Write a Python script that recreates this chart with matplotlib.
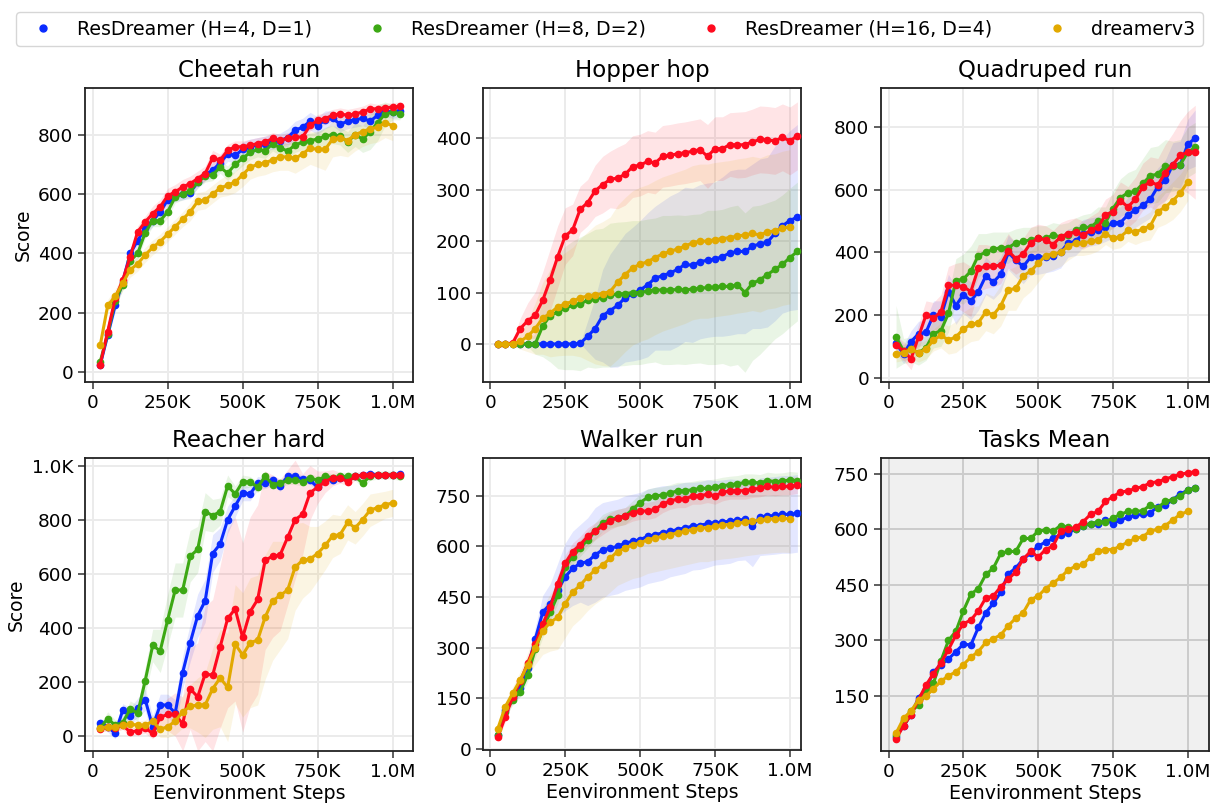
import numpy as np
import matplotlib
matplotlib.use("Agg")
import matplotlib.pyplot as plt
from matplotlib.lines import Line2D
from matplotlib.ticker import FuncFormatter, MultipleLocator

# x axis: evaluation every 25K env steps
steps_res = [25_000 * k for k in range(1, 42)]   # ResDreamer runs go to 1.025M
steps_dv3 = [25_000 * k for k in range(1, 41)]   # dreamerv3 stops at 1.0M

labels = ["ResDreamer (H=4, D=1)", "ResDreamer (H=8, D=2)",
          "ResDreamer (H=16, D=4)", "dreamerv3"]
colors = ["#0a2bff", "#3ca814", "#ff0a1e", "#e2a900"]

# ---------------- Cheetah run ----------------
cheetah_h4 = [25, 125, 225, 305, 400, 443, 485, 510, 540, 580, 595, 600, 605, 640, 665, 680, 705, 735, 730, 750,
              760, 765, 770, 775, 780, 790, 815, 825, 845, 830, 850, 855, 835, 845, 850, 855, 845, 865, 880, 875, 878]
cheetah_h8 = [35, 130, 240, 295, 375, 400, 470, 510, 510, 540, 590, 600, 610, 640, 660, 665, 690, 670, 700, 720,
              740, 750, 745, 770, 755, 745, 765, 775, 780, 785, 795, 800, 795, 775, 800, 785, 810, 840, 870, 875, 870]
cheetah_h16 = [25, 137, 249, 310, 389, 473, 506, 534, 557, 594, 607, 624, 635, 652, 669, 722, 714, 747, 759, 759,
               764, 770, 775, 787, 781, 787, 792, 792, 831, 848, 854, 865, 870, 865, 870, 876, 887, 887, 890, 893, 895]
cheetah_dv3 = [90, 225, 255, 300, 345, 365, 395, 420, 440, 465, 490, 515, 540, 575, 580, 600, 620, 630, 640, 665,
               690, 700, 705, 715, 725, 725, 720, 735, 755, 750, 750, 785, 790, 780, 800, 810, 820, 825, 840, 830]
cheetah_h4_sd = [10, 15, 20, 20, 20, 20, 20, 20, 20, 20, 20, 20, 20, 20, 20, 25, 25, 25, 25, 25, 25,
                 25, 25, 25, 25, 30, 30, 30, 30, 30, 30, 25, 25, 25, 25, 25, 25, 25, 20, 20, 20]
cheetah_h8_sd = [10, 15, 20, 20, 20, 20, 20, 20, 20, 20, 20, 20, 20, 20, 20, 20, 20, 25, 25, 25, 25,
                 25, 25, 25, 25, 25, 25, 25, 25, 25, 30, 30, 30, 35, 40, 45, 60, 60, 40, 25, 20]
cheetah_h16_sd = [10, 15, 20, 20, 20, 20, 20, 25, 25, 25, 25, 25, 25, 25, 25, 25, 20, 20, 20, 20, 20,
                  20, 20, 20, 20, 20, 20, 20, 20, 20, 20, 20, 20, 20, 20, 20, 20, 15, 15, 15, 15]
cheetah_dv3_sd = [15, 20, 25, 25, 25, 25, 25, 25, 25, 25, 25, 25, 30, 30, 30, 30, 30, 35, 35, 40,
                  40, 40, 40, 40, 45, 45, 50, 50, 55, 60, 70, 60, 60, 55, 55, 50, 50, 50, 50, 50]

# ---------------- Hopper hop ----------------
hopper_h4 = [0, 0, 0, 0, 0, 0, 0, 0, 0, 0, 0, 1, 15, 30, 55, 65, 75, 90, 97, 105,
             115, 128, 133, 138, 145, 155, 153, 160, 163, 165, 170, 177, 180, 180, 190, 195, 198, 215, 230, 240, 247]
hopper_h8 = [0, 0, 0, 0, 0, 0, 35, 55, 62, 70, 75, 78, 85, 88, 90, 95, 97, 98, 100, 100,
             103, 105, 105, 105, 106, 105, 107, 108, 110, 110, 112, 112, 115, 100, 118, 125, 135, 145, 155, 168, 180]
hopper_h16 = [0, 0, 2, 30, 45, 56, 85, 125, 170, 210, 222, 262, 275, 298, 310, 320, 323, 330, 345, 348,
              355, 352, 365, 367, 370, 372, 375, 378, 365, 380, 380, 388, 387, 388, 393, 398, 397, 395, 402, 395, 405]
hopper_dv3 = [0, 0, 0, 5, 15, 30, 50, 60, 72, 78, 83, 90, 93, 96, 98, 102, 120, 135, 148, 155,
              160, 168, 175, 180, 185, 190, 197, 200, 200, 203, 205, 207, 210, 212, 215, 212, 218, 220, 225, 228]
hopper_h4_sd = [0, 0, 0, 0, 0, 0, 0, 0, 0, 0, 0, 0, 30, 60, 90, 110, 120, 125, 130, 135, 140,
                140, 145, 150, 150, 150, 150, 150, 150, 150, 155, 160, 160, 160, 160, 165, 165, 170, 170, 175, 180]
hopper_h8_sd = [0, 0, 0, 0, 5, 20, 60, 90, 110, 120, 125, 130, 130, 135, 135, 140, 140, 140, 140, 140, 140,
                140, 145, 145, 145, 145, 145, 145, 150, 150, 150, 155, 155, 155, 150, 145, 140, 135, 135, 135, 135]
hopper_h16_sd = [0, 0, 5, 20, 35, 45, 55, 60, 60, 55, 50, 45, 45, 50, 55, 55, 60, 60, 60, 60, 60,
                 60, 60, 60, 60, 60, 60, 60, 62, 62, 62, 62, 64, 64, 64, 65, 65, 65, 65, 66, 66]
hopper_dv3_sd = [0, 0, 5, 15, 30, 50, 70, 85, 95, 100, 105, 115, 125, 135, 140, 145, 150, 150, 150, 150,
                 150, 150, 150, 150, 150, 150, 150, 150, 150, 150, 150, 150, 150, 150, 150, 150, 150, 150, 150, 150]

# ---------------- Quadruped run ----------------
quad_h4 = [110, 75, 115, 140, 145, 200, 195, 275, 230, 265, 245, 275, 325, 305, 330, 400, 375, 355, 385, 385,
           385, 390, 400, 430, 435, 460, 465, 470, 480, 495, 495, 520, 535, 550, 570, 610, 630, 680, 680, 745, 765]
quad_h8 = [130, 85, 90, 80, 95, 140, 150, 205, 310, 315, 340, 390, 400, 410, 415, 415, 430, 435, 440, 445,
           445, 455, 450, 455, 470, 480, 480, 500, 495, 540, 575, 590, 595, 620, 645, 650, 675, 675, 680, 720, 735]
quad_h16 = [105, 85, 60, 130, 200, 190, 210, 295, 295, 290, 275, 350, 355, 355, 360, 405, 380, 395, 430, 445,
            440, 425, 450, 460, 465, 455, 470, 480, 520, 530, 565, 545, 570, 610, 625, 615, 655, 680, 710, 720, 720]
quad_dv3 = [75, 80, 90, 80, 90, 120, 135, 120, 130, 155, 170, 175, 210, 200, 230, 280, 285, 325, 340, 365,
            390, 395, 400, 420, 430, 430, 435, 440, 460, 445, 450, 470, 465, 475, 485, 530, 545, 565, 590, 625]
quad_h4_sd = [30, 30, 35, 40, 40, 45, 50, 55, 60, 60, 60, 60, 60, 55, 55, 55, 55, 55, 55, 55, 50,
              50, 50, 45, 45, 45, 45, 45, 45, 50, 50, 55, 55, 55, 60, 60, 65, 70, 75, 80, 90]
quad_h8_sd = [100, 40, 40, 40, 40, 45, 50, 60, 70, 80, 80, 70, 60, 55, 50, 50, 45, 45, 40, 40, 40,
              40, 40, 40, 40, 40, 45, 45, 50, 55, 60, 65, 70, 80, 90, 90, 85, 80, 80, 80, 80]
quad_h16_sd = [30, 30, 35, 40, 45, 50, 55, 60, 70, 80, 80, 75, 70, 65, 60, 55, 50, 50, 50, 45, 45,
               45, 45, 45, 45, 45, 45, 50, 50, 55, 60, 65, 70, 75, 80, 85, 90, 100, 110, 130, 150]
quad_dv3_sd = [25, 25, 30, 30, 30, 35, 40, 45, 50, 55, 55, 55, 60, 60, 65, 65, 70, 70, 65, 60,
               55, 50, 45, 45, 40, 40, 40, 35, 35, 35, 35, 35, 40, 40, 45, 50, 55, 60, 60, 60]

# ---------------- Reacher hard ----------------
reacher_h4 = [50, 35, 10, 95, 75, 105, 135, 35, 115, 115, 85, 235, 345, 445, 500, 675, 710, 800, 850, 900,
              895, 935, 935, 945, 925, 960, 960, 950, 945, 920, 950, 945, 955, 955, 960, 965, 970, 965, 965, 965, 968]
reacher_h8 = [30, 65, 40, 50, 100, 85, 205, 335, 315, 430, 540, 540, 665, 690, 830, 815, 830, 925, 895, 940,
              940, 920, 960, 930, 935, 945, 945, 940, 955, 945, 960, 955, 960, 960, 960, 935, 960, 965, 965, 965, 960]
reacher_h16 = [25, 35, 30, 40, 15, 20, 30, 10, 70, 80, 80, 45, 175, 145, 230, 225, 330, 435, 470, 365,
               460, 505, 650, 665, 670, 735, 800, 820, 900, 920, 940, 955, 955, 940, 960, 965, 965, 965, 965, 965, 965]
reacher_dv3 = [30, 35, 35, 40, 45, 40, 40, 55, 25, 35, 55, 90, 110, 115, 115, 175, 215, 180, 340, 300,
               345, 355, 440, 500, 520, 540, 625, 650, 655, 675, 705, 740, 745, 790, 770, 800, 835, 845, 855, 862]
reacher_h4_sd = [15, 20, 20, 25, 30, 35, 40, 40, 40, 40, 50, 60, 70, 80, 80, 70, 60, 50, 40, 30, 25,
                 25, 20, 20, 20, 15, 15, 15, 15, 15, 15, 15, 10, 10, 10, 10, 10, 10, 10, 10, 10]
reacher_h8_sd = [15, 25, 20, 20, 30, 30, 50, 60, 80, 95, 100, 100, 95, 85, 70, 60, 50, 40, 30, 25, 20,
                 20, 20, 15, 15, 15, 15, 15, 15, 15, 15, 15, 15, 15, 15, 15, 15, 15, 15, 15, 15]
reacher_h16_sd = [10, 15, 15, 15, 15, 15, 20, 20, 40, 60, 80, 100, 150, 200, 250, 280, 300, 330, 340, 350, 350,
                  350, 330, 300, 280, 250, 220, 150, 100, 60, 40, 30, 20, 15, 15, 15, 10, 10, 10, 10, 10]
reacher_dv3_sd = [15, 15, 15, 15, 15, 15, 20, 25, 30, 40, 50, 60, 80, 100, 120, 150, 180, 200, 220, 230,
                  240, 240, 230, 220, 200, 180, 160, 140, 120, 100, 90, 80, 70, 65, 60, 60, 60, 55, 50, 50]

# ---------------- Walker run ----------------
walker_h4 = [40, 115, 150, 180, 240, 325, 405, 430, 470, 510, 535, 550, 555, 575, 590, 595, 600, 610, 615, 620,
             630, 635, 640, 645, 650, 655, 660, 662, 668, 670, 672, 675, 678, 680, 660, 688, 690, 692, 695, 695, 698]
walker_h8 = [40, 110, 145, 170, 220, 295, 355, 405, 455, 540, 570, 595, 620, 645, 670, 680, 685, 690, 710, 730,
             745, 750, 752, 758, 765, 765, 768, 772, 772, 775, 780, 783, 785, 790, 790, 788, 795, 792, 793, 797, 795]
walker_h16 = [35, 95, 155, 200, 255, 310, 370, 420, 490, 550, 585, 605, 630, 645, 660, 675, 685, 690, 700, 705,
              705, 710, 725, 735, 740, 740, 750, 750, 755, 750, 760, 765, 765, 765, 770, 772, 778, 775, 778, 778, 782]
walker_dv3 = [60, 125, 165, 205, 250, 300, 350, 375, 390, 430, 465, 485, 510, 530, 545, 565, 585, 595, 605, 610,
              620, 625, 630, 635, 640, 645, 650, 655, 655, 660, 663, 665, 668, 672, 675, 678, 680, 682, 683, 682]
walker_h4_sd = [10, 10, 15, 20, 25, 35, 50, 60, 80, 100, 110, 115, 130, 140, 140, 140, 140, 140, 140, 140, 140,
                140, 140, 135, 135, 135, 130, 130, 130, 125, 125, 125, 120, 120, 120, 115, 115, 115, 115, 115, 115]
walker_h8_sd = [10, 15, 15, 15, 20, 25, 25, 25, 25, 25, 25, 25, 25, 25, 25, 25, 25, 25, 25, 25, 25,
                25, 25, 25, 25, 25, 25, 25, 25, 25, 25, 25, 25, 25, 25, 25, 25, 25, 25, 25, 25]
walker_h16_sd = [10, 15, 15, 15, 20, 25, 25, 25, 25, 25, 25, 25, 25, 25, 25, 25, 25, 25, 25, 25, 25,
                 25, 25, 25, 25, 25, 25, 25, 25, 25, 25, 25, 25, 25, 25, 25, 25, 25, 25, 25, 25]
walker_dv3_sd = [10, 15, 20, 25, 35, 50, 70, 85, 95, 100, 100, 100, 100, 100, 100, 100, 100, 100, 100, 100,
                 100, 100, 100, 100, 100, 100, 100, 100, 100, 100, 100, 100, 100, 100, 100, 100, 100, 100, 100, 100]

# ---------------- Tasks mean ----------------
mean_h4 = [40, 70, 100, 145, 170, 215, 235, 250, 270, 290, 288, 335, 375, 400, 430, 480, 495, 520, 535, 555,
           565, 575, 585, 590, 600, 610, 615, 615, 625, 615, 625, 632, 638, 640, 645, 660, 665, 680, 695, 705, 712]
mean_h8 = [45, 85, 110, 125, 160, 185, 245, 300, 325, 380, 425, 440, 478, 495, 535, 540, 540, 575, 575, 595,
           598, 595, 610, 605, 600, 610, 615, 620, 620, 630, 640, 648, 648, 650, 665, 658, 675, 680, 690, 705, 710]
mean_h16 = [35, 70, 100, 140, 180, 210, 240, 275, 315, 345, 355, 380, 415, 420, 445, 465, 485, 520, 540, 525,
            545, 555, 595, 600, 605, 620, 640, 648, 675, 688, 700, 703, 710, 715, 725, 728, 735, 742, 748, 752, 755]
mean_dv3 = [50, 90, 110, 140, 150, 170, 190, 205, 215, 235, 255, 270, 295, 305, 315, 340, 360, 375, 410, 420,
            440, 455, 470, 490, 500, 505, 525, 540, 545, 545, 555, 565, 575, 580, 595, 600, 610, 625, 640, 648]

panels = [
    ("Cheetah run", [cheetah_h4, cheetah_h8, cheetah_h16, cheetah_dv3],
     [cheetah_h4_sd, cheetah_h8_sd, cheetah_h16_sd, cheetah_dv3_sd], (-33, 957), 200),
    ("Hopper hop", [hopper_h4, hopper_h8, hopper_h16, hopper_dv3],
     [hopper_h4_sd, hopper_h8_sd, hopper_h16_sd, hopper_dv3_sd], (-74, 498), 100),
    ("Quadruped run", [quad_h4, quad_h8, quad_h16, quad_dv3],
     [quad_h4_sd, quad_h8_sd, quad_h16_sd, quad_dv3_sd], (-14, 925), 200),
    ("Reacher hard", [reacher_h4, reacher_h8, reacher_h16, reacher_dv3],
     [reacher_h4_sd, reacher_h8_sd, reacher_h16_sd, reacher_dv3_sd], (-55, 1028), 200),
    ("Walker run", [walker_h4, walker_h8, walker_h16, walker_dv3],
     [walker_h4_sd, walker_h8_sd, walker_h16_sd, walker_dv3_sd], (-3, 862), 150),
    ("Tasks Mean", [mean_h4, mean_h8, mean_h16, mean_dv3], None, (2, 792), 150),
]

W, H = 1212, 805
boxes = [(85, 88, 413, 382), (483, 88, 801, 382), (881, 88, 1209, 382),
         (85, 458, 413, 751), (483, 458, 801, 750), (881, 458, 1209, 751)]
xlims = [(-25.7e3, 1068e3), (-24.3e3, 1037e3), (-25.4e3, 1071e3)]


def kfmt(v, pos):
    if abs(v) >= 1e6:
        return f"{v / 1e6:.1f}M"
    if abs(v) >= 1e3:
        return f"{v / 1e3:.1f}K" if abs(v) < 1e4 else f"{v / 1e3:.0f}K"
    return f"{v:.0f}"


fig = plt.figure(figsize=(W / 100, H / 100), dpi=100)

for i, (title, means, sds, ylim, ystep) in enumerate(panels):
    l, t, r, b = boxes[i]
    ax = fig.add_axes([l / W, 1 - b / H, (r - l) / W, (b - t) / H])
    for j in range(4):
        x = np.array(steps_dv3 if j == 3 else steps_res)
        y = np.array(means[j], dtype=float)
        if sds is not None:
            s = np.array(sds[j], dtype=float)
            ax.fill_between(x, y - s, y + s, color=colors[j], alpha=0.11, lw=0)
        ax.plot(x, y, "-o", color=colors[j], lw=2.2, ms=4.5, zorder=3)

    ax.set_xlim(*xlims[i % 3])
    ax.set_ylim(*ylim)
    ax.xaxis.set_major_locator(MultipleLocator(250e3))
    ax.yaxis.set_major_locator(MultipleLocator(ystep))
    ax.xaxis.set_major_formatter(FuncFormatter(kfmt))
    ax.yaxis.set_major_formatter(FuncFormatter(kfmt))
    ax.tick_params(labelsize=13.3, length=5, width=1.1, color="#333333")
    for sp in ax.spines.values():
        sp.set_color("#222222")
        sp.set_linewidth(1.3)
    ax.set_axisbelow(True)
    if title == "Tasks Mean":
        ax.set_facecolor("#f0f0f0")
        ax.grid(True, color="#cccccc", lw=1.4)
    else:
        ax.grid(True, color="#ebebeb", lw=1.4)
    ax.set_title(title, fontsize=16.5, pad=8)
    if i % 3 == 0:
        ax.set_ylabel("Score", fontsize=13.5)
    if i >= 3:
        ax.set_xlabel("Eenvironment Steps", fontsize=13.7, labelpad=2)

handles = [Line2D([], [], marker="o", ls="", color=c, ms=5) for c in colors]
fig.legend(handles, labels, loc="upper center", bbox_to_anchor=(0.503, 0.997), ncol=4,
           fontsize=13.7, frameon=True, edgecolor="#cccccc", fancybox=True,
           columnspacing=2.4)

fig.savefig("out.png", dpi=100)
